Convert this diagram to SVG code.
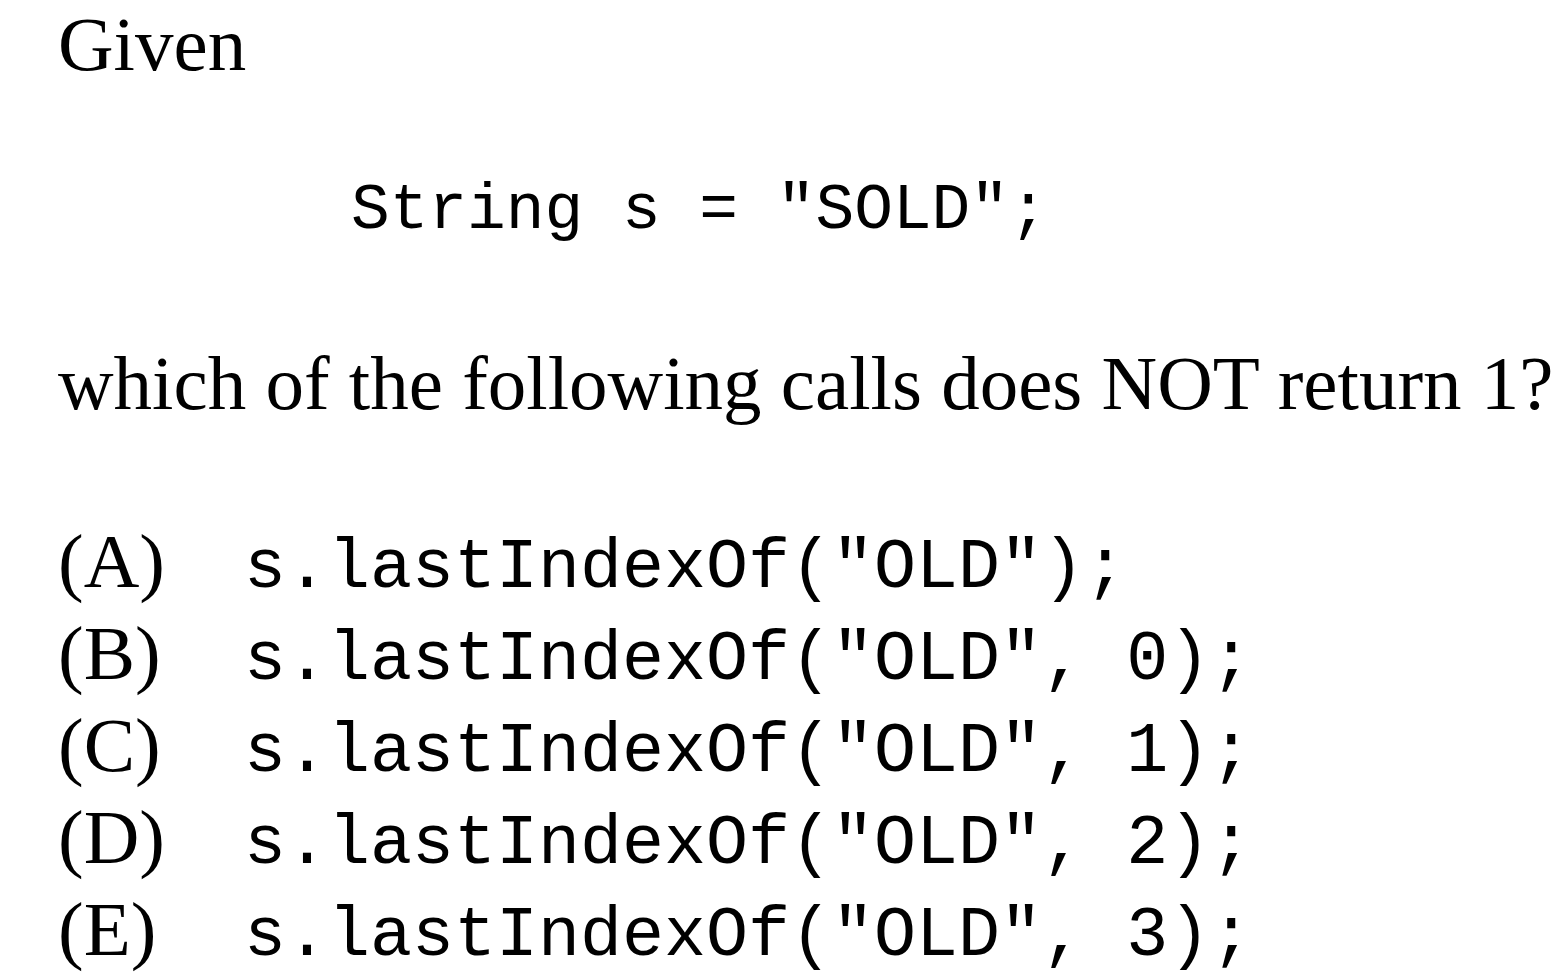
<svg xmlns="http://www.w3.org/2000/svg" width="1568" height="976" viewBox="0 0 1568 976">
<style>
.t{font-family:"Liberation Serif","Times New Roman",serif;font-size:77px;fill:#000}
.c{font-family:"Liberation Mono","Courier New",monospace;font-size:70px;fill:#000}
</style>
<rect width="1568" height="976" fill="#fff"/>
<g id="given"><text class="t" x="58" y="70">Given</text></g>
<g id="code"><text class="c" x="351" y="228" style="font-size:64.5px">String s = "SOLD";</text></g>
<g id="question"><text class="t" x="58" y="409">which of the following calls does NOT return 1?</text></g>
<g id="optA"><text class="t" x="58" y="587">(A)</text><text class="c" x="244" y="587">s.lastIndexOf("OLD");</text></g>
<g id="optB"><text class="t" x="58" y="679">(B)</text><text class="c" x="244" y="679">s.lastIndexOf("OLD", 0);</text></g>
<g id="optC"><text class="t" x="58" y="771">(C)</text><text class="c" x="244" y="771">s.lastIndexOf("OLD", 1);</text></g>
<g id="optD"><text class="t" x="58" y="863">(D)</text><text class="c" x="244" y="863">s.lastIndexOf("OLD", 2);</text></g>
<g id="optE"><text class="t" x="58" y="955">(E)</text><text class="c" x="244" y="955">s.lastIndexOf("OLD", 3);</text></g>
<g id="connectors"></g>
</svg>
